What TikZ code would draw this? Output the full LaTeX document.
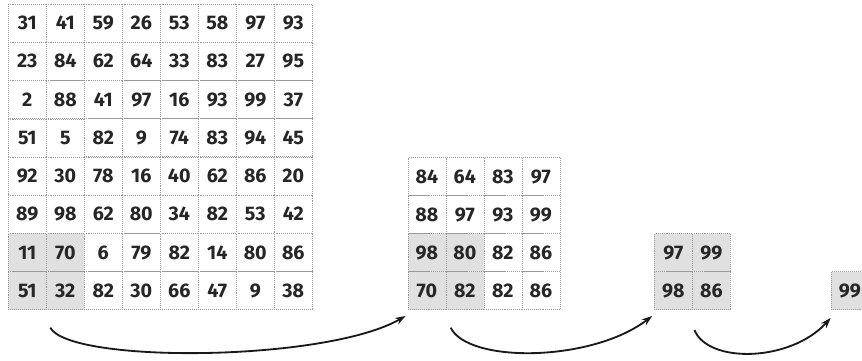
\documentclass[tikz,border=0pt]{standalone}
\usepackage{fontspec}
\setmainfont{Fira Sans}
\usepackage{tikz}
\usetikzlibrary{arrows.meta,positioning,calc,matrix}
\definecolor{cellline}{HTML}{9A9A9A}
\definecolor{poolgray}{HTML}{E0E0E0}

\begin{document}
\begin{tikzpicture}[
  cell/.style={draw=cellline,densely dotted,fill=white,minimum size=0.95cm,inner sep=0pt,font=\fontsize{14}{14}\selectfont\bfseries,text=black!85},
  pool/.style={fill=poolgray},
  grid/.style={matrix of nodes,nodes={cell},column sep=-\pgflinewidth,row sep=-\pgflinewidth,inner sep=0pt,outer sep=0pt},
  flow/.style={-{Stealth[length=2.6mm,width=1.8mm]},line width=1.3pt,black!90}]
\useasboundingbox (-0.2,-1.25) rectangle (21.35,7.75);
\matrix[grid,anchor=south west] (m1) at (0,0) {
31 & 41 & 59 & 26 & 53 & 58 & 97 & 93 \\
23 & 84 & 62 & 64 & 33 & 83 & 27 & 95 \\
2 & 88 & 41 & 97 & 16 & 93 & 99 & 37 \\
51 & 5 & 82 & 9 & 74 & 83 & 94 & 45 \\
92 & 30 & 78 & 16 & 40 & 62 & 86 & 20 \\
89 & 98 & 62 & 80 & 34 & 82 & 53 & 42 \\
|[pool]| 11 & |[pool]| 70 & 6 & 79 & 82 & 14 & 80 & 86 \\
|[pool]| 51 & |[pool]| 32 & 82 & 30 & 66 & 47 & 9 & 38 \\
};
\matrix[grid,right=2.375cm of m1.south east,anchor=south west] (m2) {
84 & 64 & 83 & 97 \\
88 & 97 & 93 & 99 \\
|[pool]| 98 & |[pool]| 80 & 82 & 86 \\
|[pool]| 70 & |[pool]| 82 & 82 & 86 \\
};
\matrix[grid,right=2.35cm of m2.south east,anchor=south west] (m3) {
|[pool]| 97 & |[pool]| 99 \\
|[pool]| 98 & |[pool]| 86 \\
};
\node[cell,pool,right=2.5cm of m3.south east,anchor=south west] (m4) {99};
\coordinate (s1) at ($(m1-8-1.south east)+(0.1,-0.45)$);
\coordinate (s2) at ($(m2-4-1.south east)+(0.12,-0.45)$);
\coordinate (s3) at ($(m3.south)+(0.05,-0.5)$);
\coordinate (e1) at ($(m2.south west)+(-0.05,-0.15)$);
\coordinate (e2) at ($(m3.south west)+(-0.05,-0.15)$);
\coordinate (e3) at ($(m4.south west)+(0,-0.2)$);
\draw[flow] (s1) .. controls +(0.5,-0.9) and +(-2.0,-1.15) .. (e1);
\draw[flow] (s2) .. controls +(0.45,-0.9) and +(-1.5,-1.15) .. (e2);
\draw[flow] (s3) .. controls +(0.35,-0.85) and +(-1.0,-1.1) .. (e3);
\end{tikzpicture}
\end{document}
